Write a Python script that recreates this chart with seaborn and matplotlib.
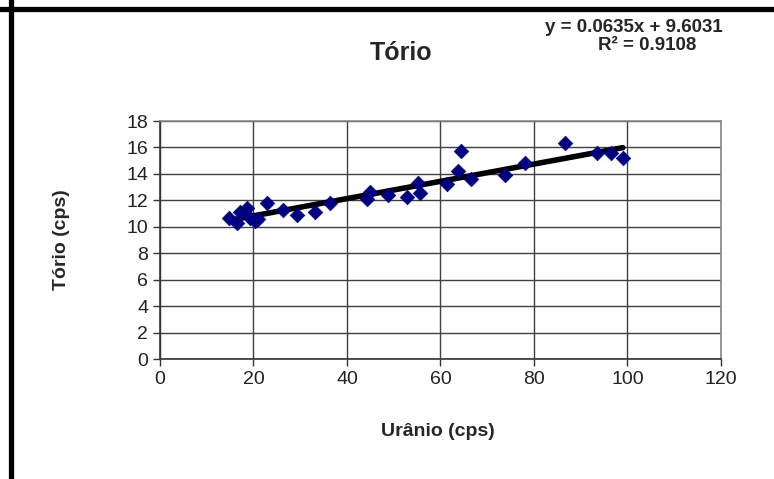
import matplotlib
matplotlib.use("Agg")
import matplotlib.pyplot as plt
import numpy as np
import pandas as pd
import seaborn as sns
from matplotlib.lines import Line2D

# dados
urano = [14.8, 16.5, 17.1, 18.6, 19.3, 20.3, 21.0, 22.9, 26.3, 29.3, 33.2, 36.4,
         44.3, 45.0, 48.8, 52.8, 55.2, 55.6, 61.4, 63.7, 64.4, 66.5, 73.8, 78.1,
         86.6, 93.5, 96.5, 99.0]
torio = [10.7, 10.3, 11.1, 11.4, 10.7, 10.4, 10.6, 11.8, 11.3, 10.9, 11.1, 11.8,
         12.1, 12.6, 12.4, 12.25, 13.3, 12.55, 13.2, 14.2, 15.7, 13.6, 13.9, 14.8,
         16.3, 15.6, 15.6, 15.2]
x_ticks = [0, 20, 40, 60, 80, 100, 120]
y_ticks = [0, 2, 4, 6, 8, 10, 12, 14, 16, 18]
eq_linha = "y = 0.0635x + 9.6031"
r2_linha = "R² = 0.9108"

df = pd.DataFrame({"Urânio": urano, "Tório": torio})

sns.set_style("white")
plt.rcParams['font.family'] = ['Liberation Sans', 'DejaVu Sans']

fig = plt.figure(figsize=(7.74, 4.79), dpi=100)
ax = fig.add_axes([160 / 774, 1 - 359 / 479, (721 - 160) / 774, (359 - 121) / 479])

# linha de tendência
sns.regplot(data=df, x="Urânio", y="Tório", scatter=False, ci=None, ax=ax,
            line_kws={"color": "black", "linewidth": 4, "zorder": 3})
# pontos
sns.scatterplot(data=df, x="Urânio", y="Tório", marker="D", s=55, color="#000080",
                edgecolor="#000080", linewidth=0.5, ax=ax, zorder=4)

ax.set_xlim(0, 120)
ax.set_ylim(0, 18)
ax.set_xticks(x_ticks)
ax.set_yticks(y_ticks)
ax.grid(True, color="#404040", linewidth=1.0)
ax.set_axisbelow(True)
for s in ["top", "right"]:
    ax.spines[s].set_color("#888888")
    ax.spines[s].set_linewidth(1.2)
for s in ["left", "bottom"]:
    ax.spines[s].set_color("#333333")
    ax.spines[s].set_linewidth(1.2)
ax.tick_params(axis="both", direction="out", length=5, width=1, color="#333333",
               labelsize=14, labelcolor="#222222", left=True, bottom=True)
ax.set_xlabel("")
ax.set_ylabel("")

fig.text(438 / 774, 1 - 432 / 479, "Urânio (cps)", ha="center", va="center",
         fontsize=14, fontweight="bold")
fig.text(62 / 774, 1 - 240 / 479, "Tório (cps)", ha="center", va="center",
         rotation=90, fontsize=14, fontweight="bold")
fig.text(401 / 774, 1 - 53 / 479, "Tório", ha="center", va="center",
         fontsize=18, fontweight="bold")
fig.text(634 / 774, 1 - 27 / 479, eq_linha, ha="center", va="center",
         fontsize=13.5, fontweight="bold")
fig.text(647 / 774, 1 - 46 / 479, r2_linha, ha="center", va="center",
         fontsize=13.5, fontweight="bold")

# moldura preta (topo e esquerda)
fig.add_artist(Line2D([0, 1], [1 - 9 / 479, 1 - 9 / 479], color="black",
                      linewidth=3.8, transform=fig.transFigure))
fig.add_artist(Line2D([11 / 774, 11 / 774], [0, 1], color="black",
                      linewidth=3.8, transform=fig.transFigure))

fig.savefig("out.png", dpi=100)
